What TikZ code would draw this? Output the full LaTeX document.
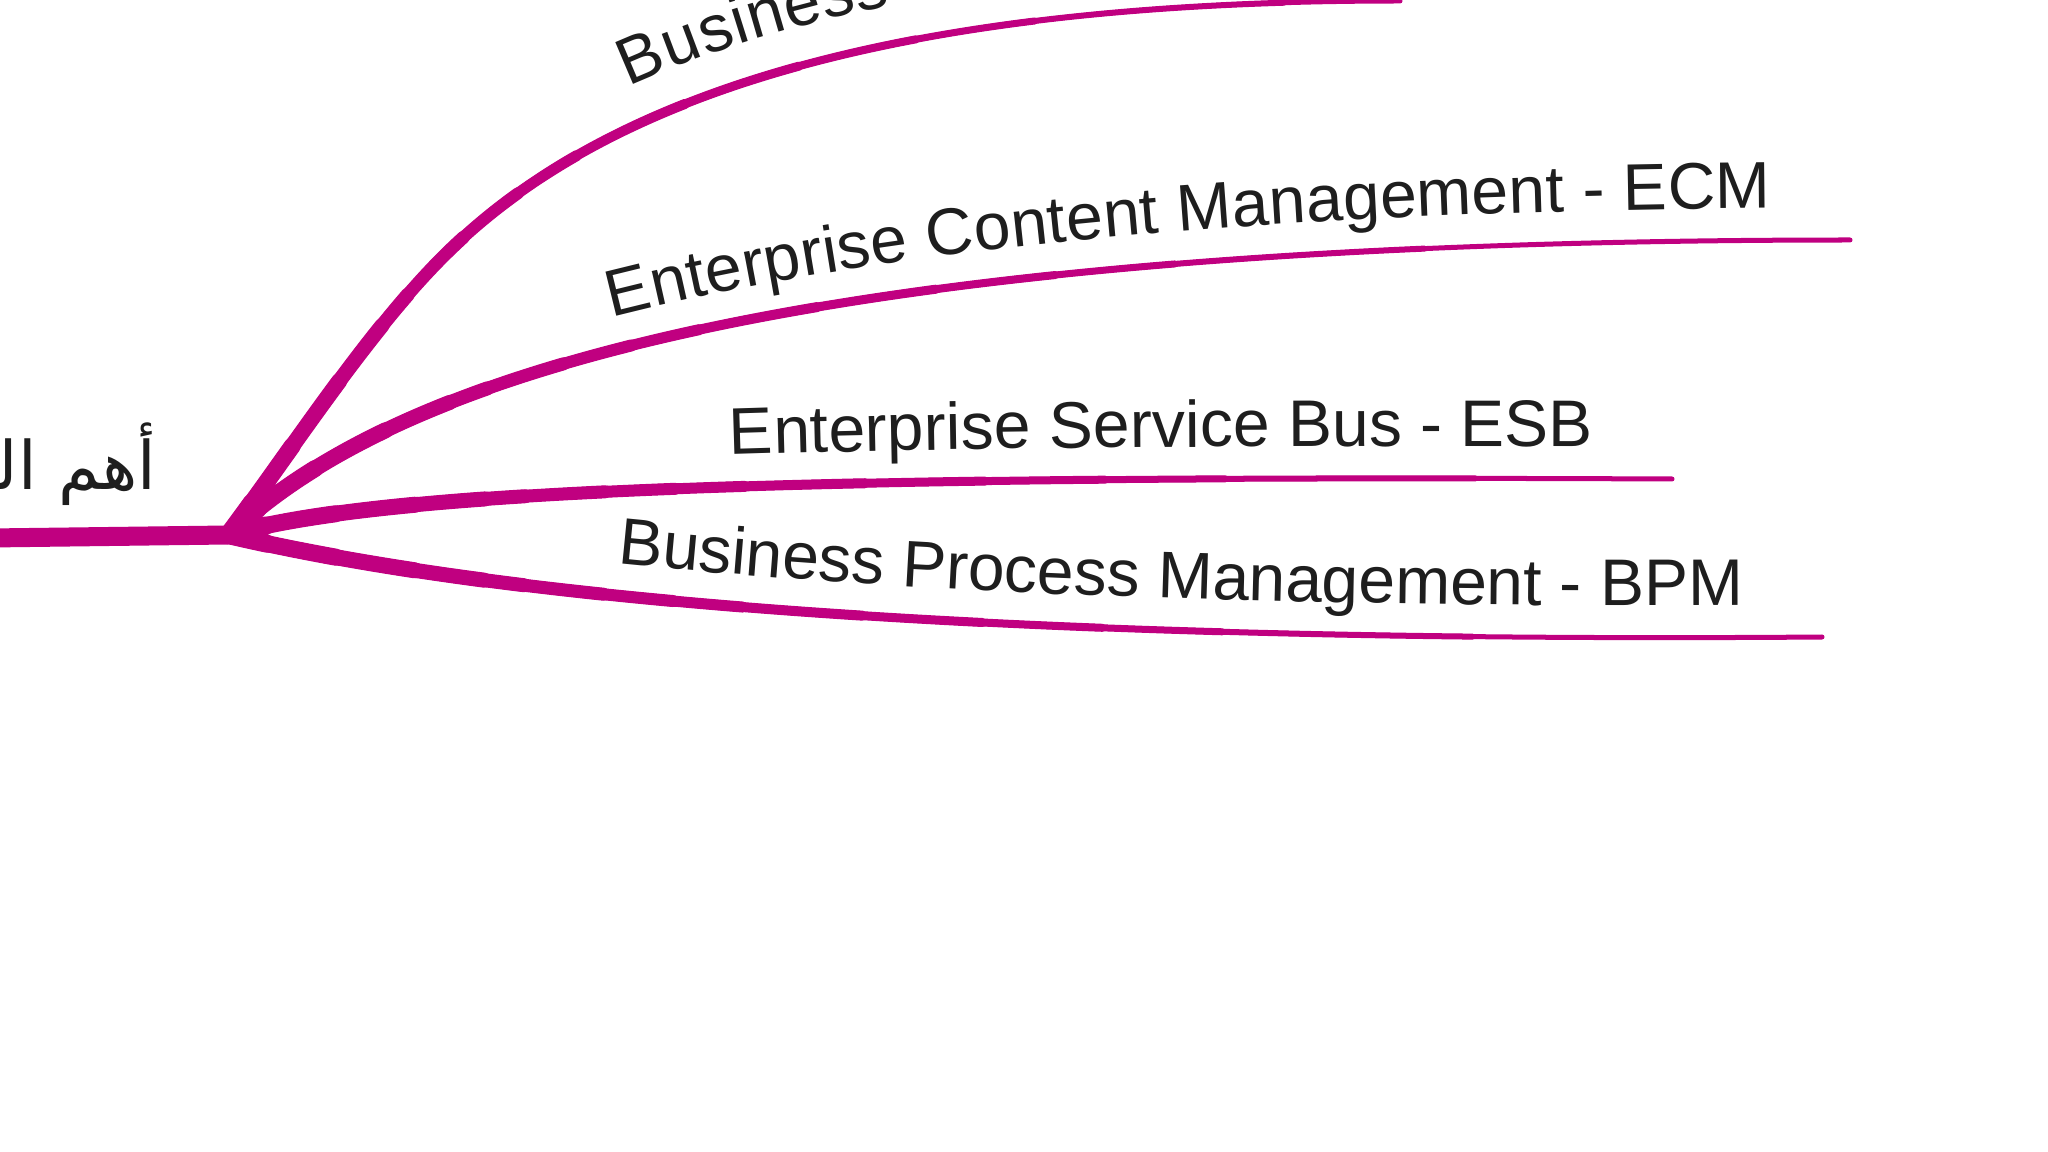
\documentclass[tikz,border=0pt]{standalone}
\usepackage{fontspec}
\setmainfont{Liberation Sans}
\newfontfamily\arabicfont[Script=Arabic]{DejaVu Sans}
\usetikzlibrary{decorations.text}
\TeXXeTstate=1
\definecolor{limbpink}{RGB}{192,0,128}
\definecolor{inkgray}{RGB}{30,30,30}
\tikzset{
  limb/.style={draw=limbpink, line cap=round, line join=round},
  twiglabel/.style={decorate, decoration={text along path, raise=0.32cm,
      text={|\fontsize{18.75pt}{23pt}\selectfont\color{inkgray}|#1},
      text align={right, right indent=0.8cm}}},
}
\begin{document}
\begin{tikzpicture}[x=0.01cm, y=-0.01cm]
  \useasboundingbox (0,0) rectangle (2048,1152);
  \fill[white] (0,0) rectangle (2048,1152);
  \clip (0,0) rectangle (2048,1152);
  \coordinate (root) at (-10,538);
  \coordinate (hub) at (228,535);
  \coordinate (bend) at (453,247);
  \coordinate (bi) at (1400,1);
  \coordinate (ecm) at (1850,240);
  \coordinate (esb) at (1672,479);
  \coordinate (bpm) at (1822,637);
  % trunk
  \draw[limb, line width=1.9mm] (root) -- (hub);
  % branches, tapering off
  \draw[limb, line width=0.5mm]
    (hub) .. controls (294,447) and (373,323) .. (bend)
          .. controls (634,74) and (950,1) .. (bi)
    (hub) .. controls (380,390) and (750,240) .. (ecm)
    (hub) .. controls (380,490) and (800,475) .. (esb)
    (hub) .. controls (400,575) and (800,645) .. (bpm);
  \foreach \w/\reach in {18/4,17/11,16/19,15/26,14/30,13/38,12/45,11/52,10/64,9/76,8/88,7/100,6/125}{
    \draw[limb, line width=\w*0.1mm, dash pattern=on \reach mm off 500mm]
      (hub) .. controls (294,447) and (373,323) .. (bend)
            .. controls (634,74) and (950,1) .. (bi)
      (hub) .. controls (380,390) and (750,240) .. (ecm)
      (hub) .. controls (380,490) and (800,475) .. (esb)
      (hub) .. controls (400,575) and (800,645) .. (bpm);
  }
  % labels
  \path[twiglabel=Business, decoration={raise=0.38cm, text align={left, left indent=5.95cm}}]
    (hub) .. controls (294,447) and (373,323) .. (bend)
          .. controls (634,74) and (950,1) .. (bi);
  \path[twiglabel={Enterprise Content Management - ECM}]
    (hub) .. controls (380,390) and (750,240) .. (ecm);
  \path[twiglabel={Enterprise Service Bus - ESB}]
    (hub) .. controls (380,490) and (800,475) .. (esb);
  \path[twiglabel={Business Process Management - BPM}]
    (hub) .. controls (400,575) and (800,645) .. (bpm);
  \node[anchor=base east, inner sep=0, text=inkgray,
        font=\arabicfont\fontsize{19pt}{23pt}\selectfont] (rootlabel) at (157,490)
    {\beginR أهم الم\endR};
\end{tikzpicture}
\end{document}
